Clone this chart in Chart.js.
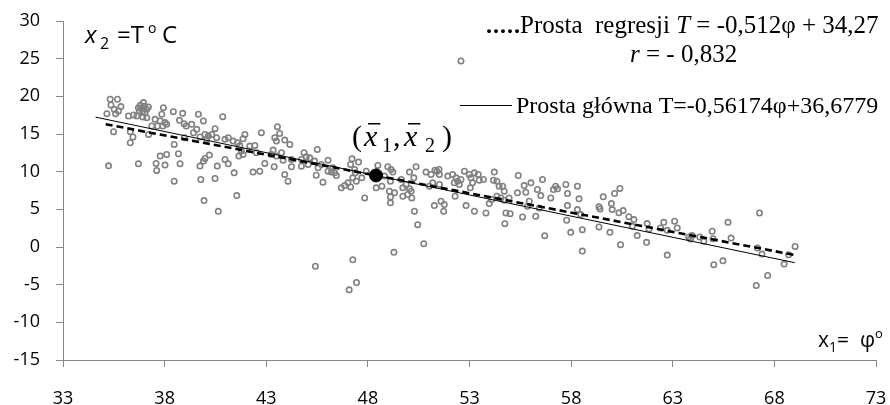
<!DOCTYPE html>
<html>
<head>
<meta charset="utf-8">
<script src="https://cdn.jsdelivr.net/npm/chart.js@4/dist/chart.umd.min.js"></script>
<style>
  body { margin: 0; background: #fff; }
</style>
</head>
<body>
<canvas id="chart" width="890" height="405"></canvas>
<script>
// latitude phi (x1) and temperature T (x2) of the stations
const phi = [
  35.32,35.68,35.36,35.85,35.52,35.73,35.16,35.59,36.96,36.71,36.88,37.12,36.76,37.04,36.63,36.93,37.12,36.22,36.47,
  36.8,37.0,36.9,37.2,
  37.94,37.86,38.43,38.89,39.66,39.91,40.86,37.53,37.78,38.02,37.65,37.91,38.10,37.37,38.73,38.96,39.06,39.33,39.58,
  40.48,39.99,39.42,35.49,36.31,36.44,36.31,37.21,38.47,38.97,40.15,40.32,40.56,40.97,41.13,40.07,39.74,35.24,36.71,
  37.58,37.78,38.10,38.02,37.61,38.68,38.76,38.47,39.74,39.91,39.99,40.20,39.78,40.48,40.59,40.97,41.13,39.94,40.64,
  43.55,42.76,41.95,41.86,43.42,43.66,43.50,43.91,44.16,41.37,41.59,41.70,42.19,42.44,42.52,41.78,41.86,41.65,41.42,
  42.35,42.68,42.93,43.34,43.25,43.50,43.75,43.83,44.24,44.24,43.91,44.07,43.39,44.73,44.86,44.97,45.14,45.51,45.38,
  44.73,45.06,45.71,46.04,45.55,45.46,45.79,46.04,46.20,46.36,46.45,46.28,46.69,46.86,47.02,47.15,47.26,47.15,47.35,
  47.22,41.55,47.26,45.42,
  47.54,47.38,47.43,47.70,47.92,47.84,48.49,48.98,49.14,49.23,49.11,48.82,48.41,48.69,49.06,49.31,49.11,49.11,49.64,
  49.72,49.88,50.05,50.13,50.16,49.72,49.96,50.37,50.05,50.26,50.29,50.45,50.75,49.28,47.44,47.08,50.86,51.11,51.40,
  51.3,51.5,51.52,51.19,51.03,51.52,51.27,51.60,51.76,51.73,51.93,52.17,52.34,52.25,52.42,52.50,52.58,52.75,52.99,
  53.07,53.24,53.15,53.04,52.29,52.83,53.24,52.58,
  53.43,53.48,53.69,53.81,54.22,54.18,54.35,54.46,54.63,54.71,54.79,55.00,54.74,53.97,54.09,54.35,54.54,54.71,54.95,
  55.40,55.36,55.69,55.77,56.02,55.94,55.85,55.61,56.26,56.43,56.51,56.34,56.59,57.00,57.13,57.24,57.33,57.74,57.82,
  58.31,58.39,57.82,58.31,58.47,57.78,57.98,58.55,56.70,58.55,
  59.58,60.14,60.40,59.37,59.42,59.98,60.02,60.35,60.56,60.84,61.09,61.01,61.74,61.83,62.56,62.40,62.73,63.09,63.22,
  63.79,63.95,63.87,64.33,64.53,64.94,59.37,59.91,61.25,61.71,60.43,62.73,65.02,
  64.98,65.72,65.87,65.47,67.27,67.17,67.39,67.67,67.11,68.48,68.70,69.02
];
const temp = [
  19.61,19.61,18.86,18.64,18.28,18.06,17.70,17.70,19.17,18.50,18.41,18.28,18.06,17.84,17.39,17.26,17.17,17.39,17.53,
  18.8,18.7,17.9,18.6,
  18.50,17.62,17.97,17.75,17.62,16.73,17.30,16.95,16.73,16.51,16.06,16.06,16.28,16.06,16.82,16.37,16.06,16.28,15.62,
  15.71,14.95,15.17,15.31,15.31,14.60,13.84,14.95,13.62,14.51,14.73,14.95,14.51,14.29,14.51,14.29,14.60,10.78,11.05,
  11.09,12.07,12.29,10.87,10.16,12.38,11.05,8.74,10.74,11.40,11.76,12.20,8.96,9.09,10.74,11.62,11.05,6.16,4.74,
  15.97,15.17,14.95,14.37,14.51,15.08,14.06,14.20,13.62,14.06,13.84,13.49,13.40,13.49,12.51,12.73,12.29,12.07,9.85,
  9.94,10.07,11.09,12.87,12.29,12.07,12.51,11.53,11.62,10.65,9.63,8.74,10.65,11.62,12.51,11.98,11.84,12.95,11.40,
  10.73,10.96,10.96,11.53,10.51,9.54,8.60,10.07,9.94,9.85,9.49,10.51,7.85,8.16,8.52,7.98,9.18,10.96,10.29,
  11.71,6.83,-1.69,-2.54,
  11.27,9.85,8.74,9.18,10.07,6.52,10.83,10.65,10.29,9.94,8.74,9.41,7.85,8.07,7.41,7.19,6.65,5.86,8.96,
  7.85,8.30,7.72,7.41,6.52,6.74,6.97,10.65,9.94,9.18,4.75,2.97,0.44,-0.71,-4.71,-5.68,9.94,9.63,10.07,
  10.2,10.3,9.63,8.52,8.07,8.30,5.50,6.08,5.63,4.75,9.41,9.63,9.18,8.52,8.74,8.30,8.96,10.07,9.63,
  9.18,9.85,8.52,7.85,6.74,5.50,4.75,24.7,
  9.63,8.87,8.96,4.52,9.94,8.87,8.74,8.07,8.07,7.41,4.52,4.43,3.10,5.76,6.30,6.74,6.52,6.21,6.52,
  9.49,7.19,8.16,7.27,8.52,6.07,5.41,3.99,4.08,5.19,6.83,7.63,8.96,6.52,7.63,8.07,7.72,8.30,7.10,
  8.07,6.39,5.50,4.97,4.30,3.55,1.95,2.30,1.50,-0.54,
  6.66,7.10,7.77,5.33,5.06,5.77,4.97,4.53,4.84,4.03,3.64,2.75,3.11,2.40,3.28,2.53,2.22,3.42,2.53,
  1.33,1.51,1.06,1.33,0.75,2.09,2.66,1.95,1.51,0.62,0.31,-1.07,-2.35,
  1.10,3.28,1.19,-1.83,4.52,-0.14,-0.94,-3.78,-5.11,-2.27,-1.03,0.08
];

// end points of the two lines
const regX = [35.1, 69.0];
const regY = [16.3, -1.06];
const mainX = [34.6, 69.0];
const mainY = [17.24, -2.08];

// centre of gravity (mean x1, mean x2)
const meanX = [48.4];
const meanY = [9.5];

const xTicks = [33, 38, 43, 48, 53, 58, 63, 68, 73];
const yTicks = [-15, -10, -5, 0, 5, 10, 15, 20, 25, 30];

const toPts = (xs, ys) => xs.map((x, i) => ({ x: x, y: ys[i] }));

const axisGrey = '#868686';
const sans = '"Open Sans", sans-serif';
const serif = '"Liberation Serif", "Times New Roman", serif';

// draws text pieces; a piece with "at" starts at that x, otherwise right after the previous one
function runs(ctx, x, y, parts) {
  parts.forEach(p => {
    if (p.at !== undefined) x = p.at;
    ctx.font = p.font;
    ctx.fillText(p.text, x, y + (p.dy || 0));
    const w = ctx.measureText(p.text).width;
    if (p.bar) ctx.fillRect(x + 4, y - 23, w - 1, 1.5);
    x += w + (p.gap || 0);
  });
  return x;
}

const notes = {
  id: 'notes',
  afterDraw(chart) {
    const ctx = chart.ctx;
    ctx.save();
    ctx.fillStyle = '#000';
    ctx.textBaseline = 'alphabetic';
    ctx.textAlign = 'left';

    // y axis name
    runs(ctx, 85, 43, [
      { text: 'x', font: 'italic 24px ' + sans, at: 85 },
      { text: '2', font: '16px ' + sans, dy: 6, at: 100 },
      { text: '=T', font: '24px ' + sans, at: 117 },
      { text: 'o', font: '14px ' + sans, dy: -10, at: 148 },
      { text: 'C', font: '24px ' + sans, at: 162 }
    ]);

    // x axis name
    runs(ctx, 818, 347, [
      { text: 'x', font: '21px ' + sans },
      { text: '1', font: '14px ' + sans, dy: 5 },
      { text: '=  φ', font: '21px ' + sans },
      { text: 'o', font: '13px ' + sans, dy: -9 }
    ]);

    // mean point label
    runs(ctx, 353, 146, [
      { text: '(', font: '30px ' + serif, at: 352 },
      { text: 'x', font: 'italic 30px ' + serif, bar: true, at: 364 },
      { text: '1', font: '20px ' + serif, dy: 6, at: 382 },
      { text: ',', font: '30px ' + serif, at: 393 },
      { text: 'x', font: 'italic 30px ' + serif, bar: true, at: 404 },
      { text: '2', font: '20px ' + serif, dy: 6, at: 425 },
      { text: ')', font: '30px ' + serif, at: 442 }
    ]);

    // regression line legend
    ctx.font = 'bold 24px ' + serif;
    [486, 493, 500, 507, 514].forEach(dx => ctx.fillText('.', dx, 33));
    runs(ctx, 520, 33, [
      { text: 'Prosta  regresji ', font: '25px ' + serif },
      { text: 'T', font: 'italic 25px ' + serif },
      { text: ' = -0,512φ + 34,27', font: '25px ' + serif }
    ]);
    runs(ctx, 630, 62, [
      { text: 'r', font: 'italic 25px ' + serif },
      { text: ' = - 0,832', font: '25px ' + serif }
    ]);

    // main axis legend
    ctx.fillRect(460, 105, 52, 1);
    runs(ctx, 516, 113, [
      { text: 'Prosta główna T=-0,56174φ+36,6779', font: '24px ' + serif }
    ]);
    ctx.restore();
  }
};

new Chart(document.getElementById('chart'), {
  type: 'scatter',
  data: {
    datasets: [
      {
        label: 'mean',
        data: toPts(meanX, meanY),
        pointRadius: 6.5,
        pointBackgroundColor: '#000',
        pointBorderColor: '#000',
        order: 0
      },
      {
        label: 'regresja',
        data: toPts(regX, regY),
        showLine: true,
        borderColor: '#000',
        borderWidth: 2.6,
        borderDash: [7, 4],
        pointRadius: 0,
        order: 1
      },
      {
        label: 'glowna',
        data: toPts(mainX, mainY),
        showLine: true,
        borderColor: '#000',
        borderWidth: 1,
        pointRadius: 0,
        order: 2
      },
      {
        label: 'stacje',
        data: toPts(phi, temp),
        pointRadius: 2.7,
        pointBorderWidth: 1.6,
        pointBorderColor: '#808080',
        pointBackgroundColor: 'rgba(0,0,0,0)',
        order: 3
      }
    ]
  },
  options: {
    responsive: false,
    animation: false,
    devicePixelRatio: 1,
    layout: { padding: { top: 21, right: 14, left: 0, bottom: 0 } },
    plugins: {
      legend: { display: false },
      tooltip: { enabled: false }
    },
    scales: {
      x: {
        type: 'linear',
        min: 33,
        max: 73,
        afterBuildTicks: s => { s.ticks = xTicks.map(v => ({ value: v })); },
        afterFit: s => { s.height = 45; s.paddingLeft = 0; s.paddingRight = 0; },
        grid: { drawOnChartArea: false, drawTicks: true, tickLength: 7, color: axisGrey },
        border: { color: axisGrey, width: 1 },
        ticks: { color: '#000', padding: 21, maxRotation: 0, font: { family: sans, size: 18 } }
      },
      y: {
        min: -15,
        max: 30,
        afterBuildTicks: s => { s.ticks = yTicks.map(v => ({ value: v })); },
        afterFit: s => { s.width = 63; s.paddingTop = 0; s.paddingBottom = 0; },
        grid: { drawOnChartArea: false, drawTicks: true, tickLength: 7, color: axisGrey },
        border: { color: axisGrey, width: 1 },
        ticks: { color: '#000', padding: 16, font: { family: sans, size: 18 } }
      }
    }
  },
  plugins: [notes]
});
</script>
</body>
</html>
